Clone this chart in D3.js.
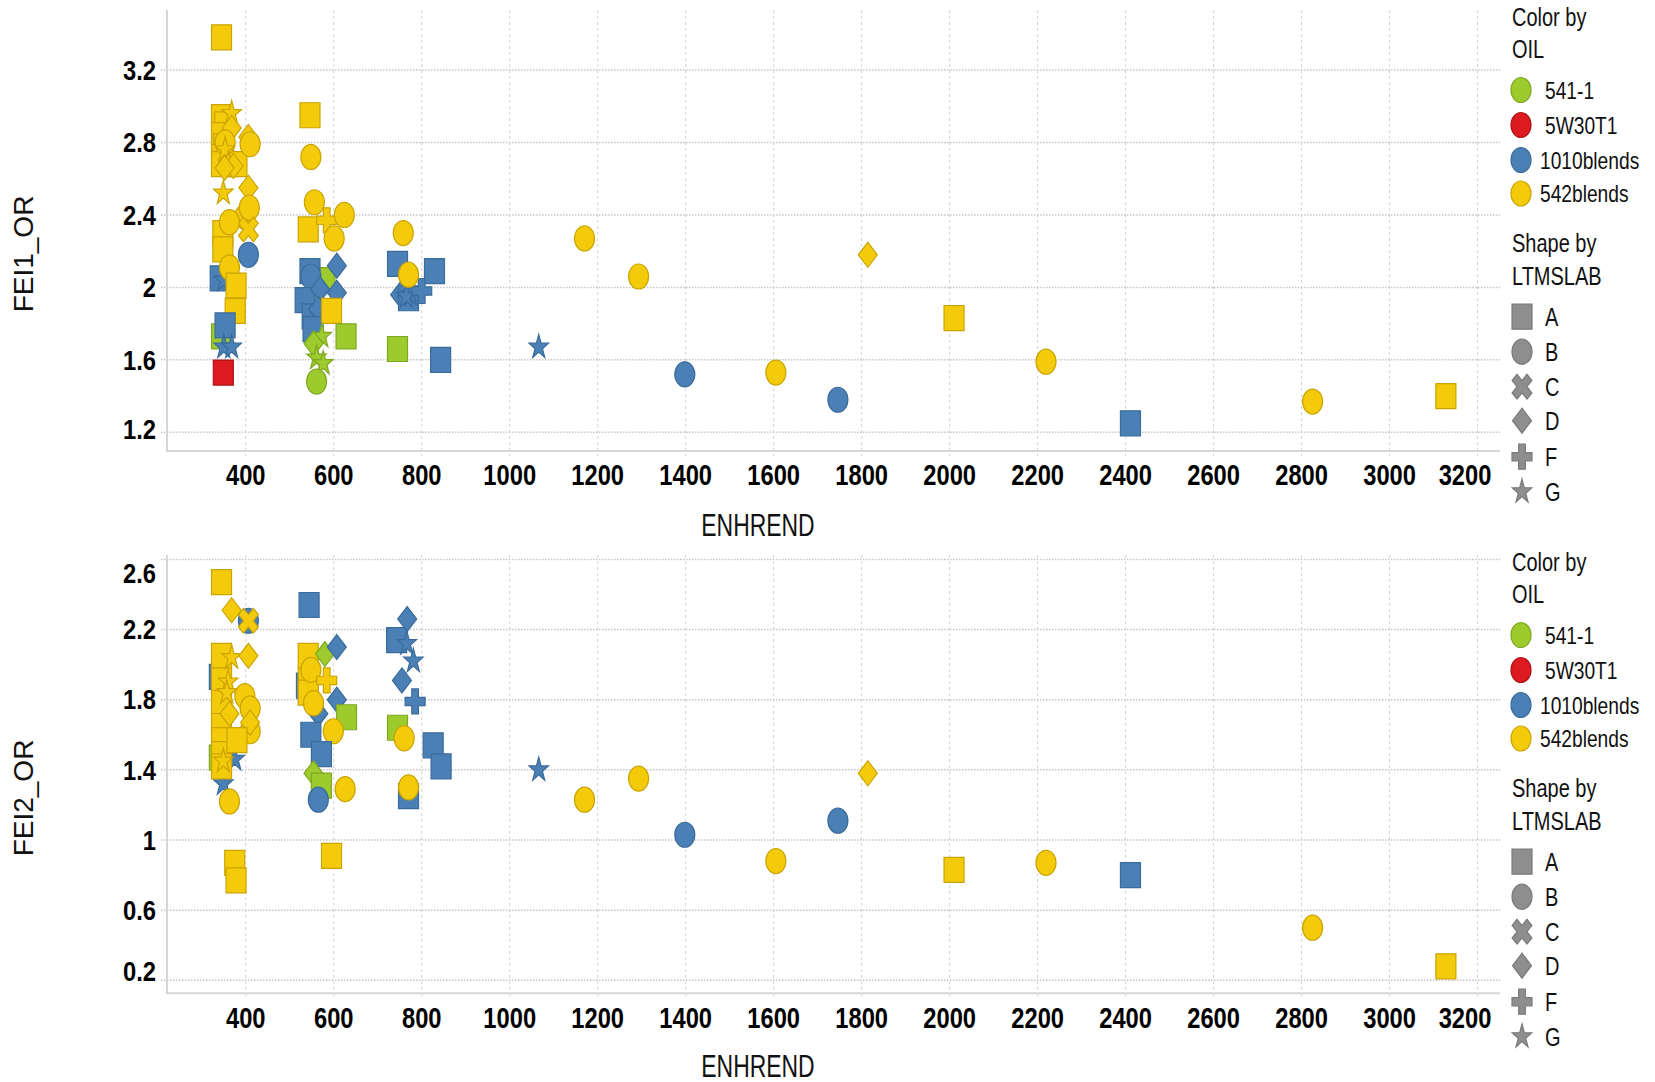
<!DOCTYPE html>
<html><head><meta charset="utf-8">
<script src="https://cdn.jsdelivr.net/npm/d3@7/dist/d3.min.js"></script>
<style>html,body{margin:0;padding:0;background:#fff;} svg{display:block;}</style>
</head><body>
<svg id="chart" width="1655" height="1082"></svg>
<script>
// ---------------- DATA ----------------
const oilNames = ["541-1", "5W30T1", "1010blends", "542blends"];
const labNames = ["A", "B", "C", "D", "F", "G"];
const xTickValues = [400, 600, 800, 1000, 1200, 1400, 1600, 1800, 2000, 2200, 2400, 2600, 2800, 3000, 3200];
const fei1TickValues = [1.2, 1.6, 2, 2.4, 2.8, 3.2];
const fei2TickValues = [0.2, 0.6, 1, 1.4, 1.8, 2.2, 2.6];

// [OIL, LTMSLAB, ENHREND, FEI1_OR]
const fei1Points = [
  ["542blends","A",345,3.38], ["542blends","A",345,2.94], ["542blends","A",352,2.90],
  ["542blends","A",345,2.84], ["542blends","A",350,2.78], ["542blends","A",345,2.72],
  ["542blends","A",345,2.68], ["542blends","A",380,2.68], ["542blends","G",368,2.96],
  ["542blends","D",368,2.88], ["542blends","B",353,2.80], ["542blends","G",353,2.76],
  ["542blends","D",406,2.83], ["542blends","B",410,2.79], ["542blends","G",360,2.68],
  ["542blends","D",372,2.67], ["542blends","D",352,2.66], ["542blends","G",349,2.52],
  ["542blends","D",406,2.55], ["542blends","A",348,2.30], ["542blends","A",348,2.21],
  ["542blends","B",398,2.39], ["542blends","B",408,2.44], ["542blends","C",406,2.32],
  ["542blends","B",363,2.36], ["1010blends","B",406,2.18], ["1010blends","A",342,2.05],
  ["1010blends","G",350,2.04], ["542blends","B",363,2.11], ["542blends","A",378,2.01],
  ["542blends","A",376,1.87], ["541-1","A",345,1.73], ["1010blends","A",353,1.79],
  ["1010blends","G",350,1.67], ["1010blends","G",368,1.67], ["5W30T1","A",349,1.53],
  ["542blends","A",546,2.95], ["542blends","B",548,2.72], ["542blends","B",556,2.47],
  ["542blends","A",542,2.32], ["542blends","F",584,2.37], ["542blends","B",624,2.40],
  ["542blends","B",601,2.27], ["541-1","A",580,2.04], ["1010blends","A",546,2.09],
  ["1010blends","B",548,2.06], ["1010blends","D",607,2.12], ["1010blends","D",607,1.97],
  ["1010blends","A",535,1.93], ["1010blends","D",569,1.99], ["1010blends","A",551,1.84],
  ["1010blends","D",565,1.88], ["1010blends","A",553,1.77], ["542blends","A",595,1.87],
  ["541-1","A",628,1.73], ["541-1","G",573,1.73], ["541-1","D",554,1.69],
  ["541-1","G",561,1.61], ["541-1","G",576,1.58], ["541-1","B",561,1.48],
  ["542blends","B",758,2.30], ["1010blends","A",745,2.13], ["1010blends","A",829,2.09],
  ["1010blends","D",751,1.96], ["1010blends","A",770,1.94], ["1010blends","G",775,1.96],
  ["1010blends","G",765,1.95], ["1010blends","F",800,1.98], ["542blends","B",770,2.07],
  ["541-1","A",745,1.66], ["1010blends","A",843,1.60],
  ["1010blends","G",1066,1.67], ["542blends","B",1170,2.27], ["542blends","B",1293,2.06],
  ["1010blends","B",1398,1.52], ["542blends","B",1605,1.53], ["1010blends","B",1746,1.38],
  ["542blends","D",1814,2.18], ["542blends","A",2010,1.83], ["542blends","B",2219,1.59],
  ["1010blends","A",2411,1.25], ["542blends","B",2825,1.37], ["542blends","A",3128,1.40]
];

// [OIL, LTMSLAB, ENHREND, FEI2_OR]
const fei2Points = [
  ["1010blends","A",340,1.93], ["541-1","A",340,1.47], ["1010blends","G",375,1.46],
  ["1010blends","G",349,1.32],
  ["542blends","A",345,2.47], ["542blends","A",345,2.05], ["542blends","A",345,1.91],
  ["542blends","A",345,1.78], ["542blends","A",345,1.65], ["542blends","A",345,1.57],
  ["542blends","A",345,1.49], ["542blends","A",345,1.42], ["542blends","D",368,2.31],
  ["1010blends","B",406,2.25], ["542blends","C",406,2.25], ["542blends","G",368,2.04],
  ["542blends","D",406,2.05], ["542blends","G",360,1.90], ["542blends","G",357,1.84],
  ["542blends","B",398,1.82], ["542blends","D",363,1.72], ["542blends","B",410,1.75],
  ["542blends","B",410,1.62], ["542blends","D",410,1.67], ["542blends","A",380,1.57],
  ["542blends","G",349,1.45], ["542blends","B",363,1.22], ["542blends","A",375,0.87],
  ["542blends","A",378,0.77],
  ["1010blends","A",544,2.34], ["1010blends","A",538,1.88], ["542blends","A",542,2.05],
  ["542blends","A",542,1.91], ["542blends","A",542,1.84], ["541-1","D",580,2.06],
  ["1010blends","D",607,2.10], ["542blends","B",548,1.97], ["542blends","F",584,1.91],
  ["1010blends","D",607,1.80], ["1010blends","D",565,1.72], ["542blends","B",554,1.78],
  ["541-1","A",629,1.70], ["1010blends","A",548,1.60], ["542blends","B",599,1.62],
  ["1010blends","A",572,1.49], ["541-1","D",554,1.38], ["541-1","A",572,1.31],
  ["1010blends","B",565,1.23], ["542blends","B",626,1.29], ["542blends","A",595,0.91],
  ["1010blends","A",743,2.14], ["1010blends","D",767,2.26], ["1010blends","G",766,2.12],
  ["1010blends","G",781,2.02], ["1010blends","D",755,1.91], ["1010blends","F",785,1.79],
  ["541-1","A",745,1.64], ["542blends","B",760,1.58], ["1010blends","A",826,1.54],
  ["1010blends","A",844,1.42], ["1010blends","A",770,1.25], ["542blends","B",770,1.30],
  ["1010blends","G",1066,1.40], ["542blends","B",1170,1.23], ["542blends","B",1293,1.35],
  ["1010blends","B",1398,1.03], ["542blends","B",1605,0.88], ["1010blends","B",1746,1.11],
  ["542blends","D",1814,1.38], ["542blends","A",2010,0.83], ["542blends","B",2219,0.87],
  ["1010blends","A",2411,0.80], ["542blends","B",2825,0.50], ["542blends","A",3128,0.28]
];

// ---------------- STYLE ----------------
const oilFill = d3.scaleOrdinal().domain(oilNames).range(["#9dcb2d", "#dc1a1f", "#4a80b5", "#f4cb0b"]);
const oilStroke = d3.scaleOrdinal().domain(oilNames).range(["#7fa822", "#ad1217", "#3a6b9a", "#caa400"]);
const FONT = "'Liberation Sans', Arial, sans-serif";
const svg = d3.select("#chart");

function shapePath(lab) {
  switch (lab) {
    case "A": return "M-10,-10H10V10H-10Z";
    case "B": return d3.symbol(d3.symbolCircle, Math.PI * 100)();
    case "C": return d3.symbol(d3.symbolCross, 245)();
    case "D": return "M0,-10L9.5,0L0,10L-9.5,0Z";
    case "F": return d3.symbol(d3.symbolCross, 222)();
    case "G": return d3.symbol(d3.symbolStar, 118)();
  }
}
function shapeTransform(lab, x, y) {
  return `translate(${x},${y}) scale(1,1.25)` + (lab === "C" ? " rotate(45)" : "");
}

function txt(parent, x, y, s, o) {
  const g = parent.append("g").attr("transform", `translate(${x},${y})` + (o.rotate ? ` rotate(${o.rotate})` : ""));
  g.append("text").attr("transform", `scale(${o.k || 1},1)`)
    .attr("text-anchor", o.anchor || "start")
    .attr("font-family", FONT).attr("font-size", o.size)
    .attr("font-weight", o.weight || "normal").attr("fill", o.fill || "#111")
    .text(s);
}

const x = d3.scaleLinear().domain([221, 3251]).range([167, 1500]);

const panels = [
  { points: fei1Points, ticks: fei1TickValues, title: "FEI1_OR", top: 10, bottom: 451, domain: [1.097, 3.531], off: 0, xLabY: 484.5, xTitleY: 536, yTitleC: 254 },
  { points: fei2Points, ticks: fei2TickValues, title: "FEI2_OR", top: 555, bottom: 993.3, domain: [0.126, 2.625], off: 545, xLabY: 1028, xTitleY: 1076.5, yTitleC: 798 }
];

panels.forEach(p => {
  const y = d3.scaleLinear().domain(p.domain).range([p.bottom, p.top]);
  const g = svg.append("g");

  // vertical gridlines
  g.selectAll(".vg").data(xTickValues).join("line")
    .attr("x1", d => x(d)).attr("x2", d => x(d))
    .attr("y1", p.top).attr("y2", p.bottom + 5)
    .attr("stroke", "#d4d4d4").attr("stroke-width", 1).attr("stroke-dasharray", "3,3");
  // horizontal gridlines
  g.selectAll(".hg").data(p.ticks).join("line")
    .attr("x1", 161).attr("x2", 1500)
    .attr("y1", d => y(d)).attr("y2", d => y(d))
    .attr("stroke", "#c6c6c6").attr("stroke-width", 1.5).attr("stroke-dasharray", "1.5,1.5");
  // axis lines
  g.append("line").attr("x1", 167).attr("x2", 167).attr("y1", p.top).attr("y2", p.bottom)
    .attr("stroke", "#d6d6d6").attr("stroke-width", 2);
  g.append("line").attr("x1", 166).attr("x2", 1500).attr("y1", p.bottom).attr("y2", p.bottom)
    .attr("stroke", "#d6d6d6").attr("stroke-width", 2);

  // tick labels (kept inside the plot's extent, like the original)
  p.ticks.forEach(t => {
    const c = Math.max(p.top + 18, Math.min(p.bottom - 21.6, y(t)));
    txt(g, 156, c + 9.7, d3.format("~g")(t), { size: 27, weight: "bold", k: 0.88, anchor: "end", fill: "#000" });
  });
  xTickValues.forEach(t => txt(g, Math.min(x(t), 1465), p.xLabY, String(t), { size: 30, weight: "bold", k: 0.79, anchor: "middle", fill: "#000" }));

  // axis titles
  txt(g, 758, p.xTitleY, "ENHREND", { size: 31, k: 0.74, anchor: "middle", fill: "#111" });
  txt(g, 33, p.yTitleC, p.title, { size: 28, k: 1, anchor: "middle", rotate: -90, fill: "#111" });

  // points
  g.append("g").selectAll("path").data(p.points).join("path")
    .attr("d", d => shapePath(d[1]))
    .attr("transform", d => shapeTransform(d[1], x(d[2]), y(d[3])))
    .attr("fill", d => oilFill(d[0]))
    .attr("stroke", d => oilStroke(d[0]))
    .attr("stroke-width", 1.2)
    .attr("vector-effect", "non-scaling-stroke");

  // legend
  const L = g.append("g").attr("transform", `translate(0,${p.off})`);
  txt(L, 1512, 26, "Color by", { size: 25, k: 0.8 });
  txt(L, 1512, 58, "OIL", { size: 25, k: 0.8 });
  const colorY = [90, 125, 160, 193.5];
  const colorLabX = [1545, 1545, 1540, 1540];
  oilNames.forEach((o, i) => {
    L.append("path").attr("d", shapePath("B")).attr("transform", shapeTransform("B", 1521, colorY[i]))
      .attr("fill", oilFill(o)).attr("stroke", oilStroke(o)).attr("stroke-width", 1.2).attr("vector-effect", "non-scaling-stroke");
    txt(L, colorLabX[i], colorY[i] + 8.5, o, { size: 24, k: 0.8 });
  });
  txt(L, 1512, 252, "Shape by", { size: 25, k: 0.8 });
  txt(L, 1512, 285, "LTMSLAB", { size: 25, k: 0.8 });
  const shapeY = [316.7, 351.7, 386.7, 420.7, 456.7, 491.7];
  labNames.forEach((s, i) => {
    L.append("path").attr("d", shapePath(s)).attr("transform", shapeTransform(s, 1522, shapeY[i]))
      .attr("fill", "#8e8e8e").attr("stroke", "#7a7a7a").attr("stroke-width", 1.2).attr("vector-effect", "non-scaling-stroke");
    txt(L, 1545, shapeY[i] + 8.8, s, { size: 25, k: 0.8 });
  });
});
</script>
</body></html>
